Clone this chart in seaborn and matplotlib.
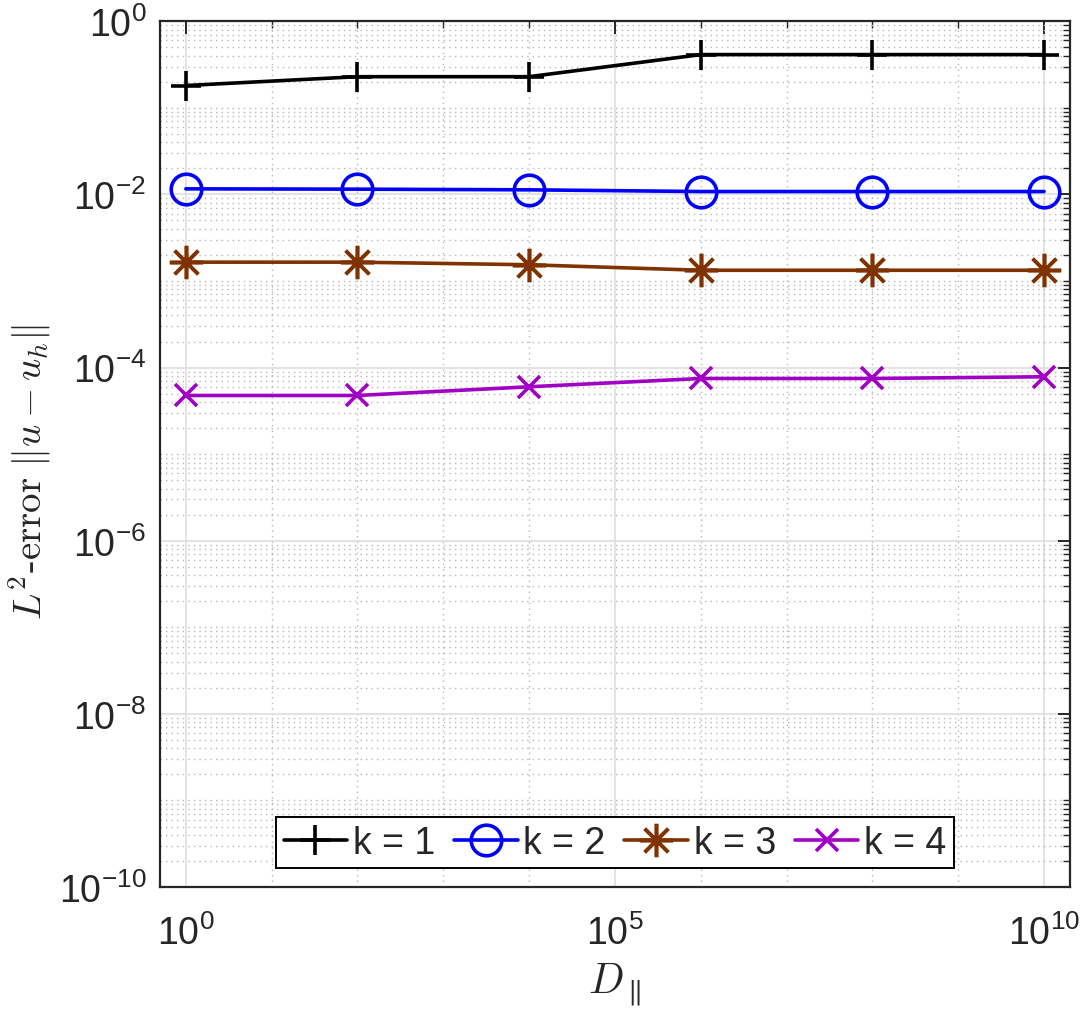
import numpy as np
import pandas as pd
import seaborn as sns
import matplotlib
matplotlib.use("Agg")
import matplotlib.pyplot as plt
from matplotlib.ticker import FixedLocator, LogLocator, NullFormatter

# values
d_par = [1e0, 1e2, 1e4, 1e6, 1e8, 1e10]
err_k1 = [0.181, 0.229, 0.229, 0.412, 0.412, 0.412]
err_k2 = [0.0116, 0.0115, 0.0113, 0.0108, 0.0108, 0.0108]
err_k3 = [0.00165, 0.00165, 0.00154, 0.00133, 0.00133, 0.00133]
err_k4 = [4.76e-5, 4.76e-5, 6.0e-5, 7.48e-5, 7.48e-5, 7.83e-5]
labels = ["k = 1", "k = 2", "k = 3", "k = 4"]
colors = ["#000000", "#0000ff", "#803300", "#a000c4"]
markers = ["+", "o", (8, 2, 0), "x"]
msizes = [22, 22, 24, 16]

sns.set_style("white")
plt.rcParams["font.family"] = ["Liberation Sans", "DejaVu Sans"]
plt.rcParams["mathtext.fontset"] = "cm"

fig = plt.figure(figsize=(10.84, 10.12), dpi=100)
ax = fig.add_axes([0.1476, 0.1225, 0.8394, 0.8555])

series = [err_k1, err_k2, err_k3, err_k4]
for lab, err, col, mk, ms in zip(labels, series, colors, markers, msizes):
    df = pd.DataFrame({"D": d_par, "err": err})
    sns.lineplot(data=df, x="D", y="err", ax=ax, color=col, marker=mk,
                 markersize=ms, mfc="none", mec=col, mew=2.6, lw=2.6,
                 label=lab, legend=False)

ax.set_xscale("log")
ax.set_yscale("log")
ax.set_xlim(0.5, 2e10)
ax.set_ylim(1e-10, 1)

ax.xaxis.set_major_locator(FixedLocator([1e0, 1e5, 1e10]))
ax.xaxis.set_minor_locator(LogLocator(base=10, subs=[1.0], numticks=100))
ax.xaxis.set_minor_formatter(NullFormatter())
ax.yaxis.set_major_locator(FixedLocator([1e-10, 1e-8, 1e-6, 1e-4, 1e-2, 1e0]))
ax.yaxis.set_minor_locator(LogLocator(base=10, subs=np.arange(1, 10), numticks=100))
ax.yaxis.set_minor_formatter(NullFormatter())

ax.grid(which="major", color="#dedede", ls="-", lw=1.2)
ax.grid(which="minor", color="#b8b8b8", ls=(0, (1, 3)), lw=1.0)
ax.set_axisbelow(True)

ax.tick_params(which="both", direction="in", top=True, right=True,
               colors="#262626", labelsize=27)
ax.tick_params(which="major", length=9, width=1.4)
ax.tick_params(which="minor", length=5, width=1.0)
ax.tick_params(axis="x", pad=20)
ax.tick_params(axis="y", pad=10)
for s in ax.spines.values():
    s.set_color("#262626")
    s.set_linewidth(1.6)

ax.set_xlabel(r"$D_\parallel$", fontsize=30, color="#262626")
ax.xaxis.set_label_coords(0.5, -0.085)
ax.set_ylabel(r"$L^2\text{-error}\ \Vert u-u_h\Vert$", fontsize=28,
              color="#262626")
ax.yaxis.set_label_coords(-0.118, 0.48)

leg = ax.legend(loc="lower center", ncol=4, fontsize=27, frameon=True,
                fancybox=False, edgecolor="#000000", framealpha=1,
                handlelength=1.7, handletextpad=0.15, columnspacing=0.5,
                borderpad=0.2, borderaxespad=0.5, markerscale=1.0)
leg.get_frame().set_linewidth(1.4)

fig.savefig("out.png", dpi=100)
